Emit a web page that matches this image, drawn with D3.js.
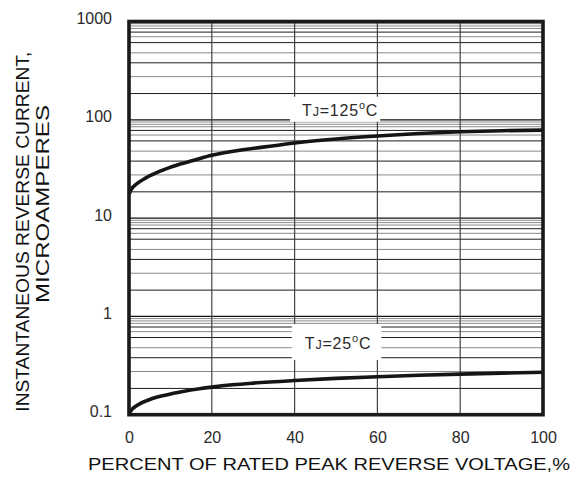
<!DOCTYPE html>
<html>
<head>
<meta charset="utf-8">
<script src="https://cdn.jsdelivr.net/npm/d3@7"></script>
<style>
  html, body { margin: 0; padding: 0; background: #fff; }
  svg { display: block; font-family: "Liberation Sans", Arial, sans-serif; }
</style>
</head>
<body>
<svg id="chart" width="587" height="486"></svg>
<script>
// ---------- data ----------
const xTicks = [0, 20, 40, 60, 80, 100];
const yTicks = [0.1, 1, 10, 100, 1000];
const yTickLabels = ["0.1", "1", "10", "100", "1000"];
const decadeTops = [1, 10, 100, 1000];
const minorMultipliers = [0.95, 0.9, 0.85, 0.78, 0.7, 0.61, 0.48, 0.38, 0.275, 0.185];
const minorDark = [false, false, false, true, false, true, false, true, false, true];

const pctHot = [0, 0.5, 2, 4, 7.5, 11.5, 15.5, 20, 27.5, 35, 40, 50, 60, 70, 80, 90, 100];
const currentHot = [17.5, 19.5, 22.5, 25.5, 30, 34.5, 38.5, 43.5, 49.5, 54.5, 58, 63.8, 68.5, 72.5, 75.5, 77.5, 78.5];

const pctCold = [0, 0.3, 2, 5, 9, 13, 17, 20, 25, 30, 40, 50, 60, 70, 80, 90, 100];
const currentCold = [0.1, 0.1073, 0.1249, 0.1428, 0.159, 0.1722, 0.1835, 0.1909, 0.2015, 0.2097, 0.2228, 0.2341, 0.2436, 0.2516, 0.2588, 0.2649, 0.27];

const labelHot = { x: 51, y: 110, num: "125" };
const labelCold = { x: 50.5, y: 0.466, num: "25" };

const xTitle = "PERCENT OF RATED PEAK REVERSE VOLTAGE,%";
const yTitle1 = "INSTANTANEOUS REVERSE CURRENT,";
const yTitle2 = "MICROAMPERES";

// ---------- layout ----------
const L = 129, R = 543, T = 21.5, B = 414.7;
const svg = d3.select("#chart");
const x = d3.scaleLinear().domain([0, 100]).range([L, R]);
const y = d3.scaleLog().domain([0.1, 1000]).range([B, T]);
const txt = "#2a2a2a";

// minor horizontal grid
const minorVals = [];
decadeTops.forEach(top => minorMultipliers.forEach((m, i) => minorVals.push({ v: top * m, dark: minorDark[i] })));
svg.append("g").selectAll("line").data(minorVals).join("line")
  .attr("x1", L).attr("x2", R)
  .attr("y1", d => y(d.v)).attr("y2", d => y(d.v))
  .attr("stroke", d => d.dark ? "#1e1e1e" : "#8a8a8a")
  .attr("stroke-width", 1);

// major horizontal grid
svg.append("g").selectAll("line").data(yTicks.slice(1, 4)).join("line")
  .attr("x1", L).attr("x2", R)
  .attr("y1", d => y(d)).attr("y2", d => y(d))
  .attr("stroke", "#111").attr("stroke-width", 1.2);

// vertical grid
svg.append("g").selectAll("line").data(xTicks.slice(1, 5)).join("line")
  .attr("x1", d => x(d)).attr("x2", d => x(d))
  .attr("y1", T).attr("y2", B)
  .attr("stroke", "#444").attr("stroke-width", 1.2);

// labels with white boxes
function tjLabel(lab, padL, padR, padT, padB) {
  const g = svg.append("g");
  const rect = g.append("rect").attr("fill", "#fff");
  const t = g.append("text")
    .attr("x", x(lab.x)).attr("y", y(lab.y))
    .attr("text-anchor", "middle")
    .attr("fill", txt)
    .attr("font-size", 16)
    .attr("letter-spacing", 0.8);
  t.append("tspan").text("T");
  t.append("tspan").attr("font-size", 12.5).text("J");
  t.append("tspan").text("=" + lab.num);
  t.append("tspan").attr("font-size", 11).attr("dy", -7).text("o");
  t.append("tspan").attr("dy", 7).text("C");
  const bb = t.node().getBBox();
  rect.attr("x", bb.x - padL).attr("y", y(lab.y) - padT)
    .attr("width", bb.width + padL + padR).attr("height", padT + padB);
}
tjLabel(labelHot, 12, 2, 19, 6);
tjLabel(labelCold, 13, 10, 25, 11);

// curves
const line = d3.line().x(d => x(d[0])).y(d => y(d[1])).curve(d3.curveMonotoneX);
svg.append("path").datum(pctHot.map((p, i) => [p, currentHot[i]]))
  .attr("d", line).attr("fill", "none").attr("stroke", "#151515").attr("stroke-width", 3.6);
svg.append("path").datum(pctCold.map((p, i) => [p, currentCold[i]]))
  .attr("d", line).attr("fill", "none").attr("stroke", "#151515").attr("stroke-width", 3.6);

// frame
svg.append("rect").attr("x", L).attr("y", T).attr("width", R - L).attr("height", B - T)
  .attr("fill", "none").attr("stroke", "#1a1a1a").attr("stroke-width", 3.6);

// axes (labels only)
const xAxis = svg.append("g").attr("transform", `translate(0,${B})`)
  .call(d3.axisBottom(x).tickValues(xTicks).tickSize(0).tickPadding(17));
xAxis.select(".domain").remove();
xAxis.selectAll("text").attr("font-size", 16).attr("fill", txt).attr("font-family", null);

const yAxis = svg.append("g").attr("transform", `translate(${L},0)`)
  .call(d3.axisLeft(y).tickValues(yTicks).tickFormat((d, i) => yTickLabels[i]).tickSize(0).tickPadding(17));
yAxis.select(".domain").remove();
yAxis.selectAll("text").attr("font-size", 16).attr("fill", txt).attr("dy", "0.12em").attr("font-family", null);

// titles
svg.append("text").attr("x", 88).attr("y", 470)
  .attr("font-size", 16.5).attr("fill", "#111")
  .attr("textLength", 482).attr("lengthAdjust", "spacingAndGlyphs")
  .text(xTitle);

svg.append("text").attr("transform", "translate(29,231.7) rotate(-90)")
  .attr("text-anchor", "middle").attr("font-size", 18).attr("fill", "#111")
  .attr("textLength", 360).attr("lengthAdjust", "spacingAndGlyphs")
  .text(yTitle1);
svg.append("text").attr("transform", "translate(49,204) rotate(-90)")
  .attr("text-anchor", "middle").attr("font-size", 18).attr("fill", "#111")
  .attr("textLength", 198).attr("lengthAdjust", "spacingAndGlyphs")
  .text(yTitle2);
</script>
</body>
</html>
